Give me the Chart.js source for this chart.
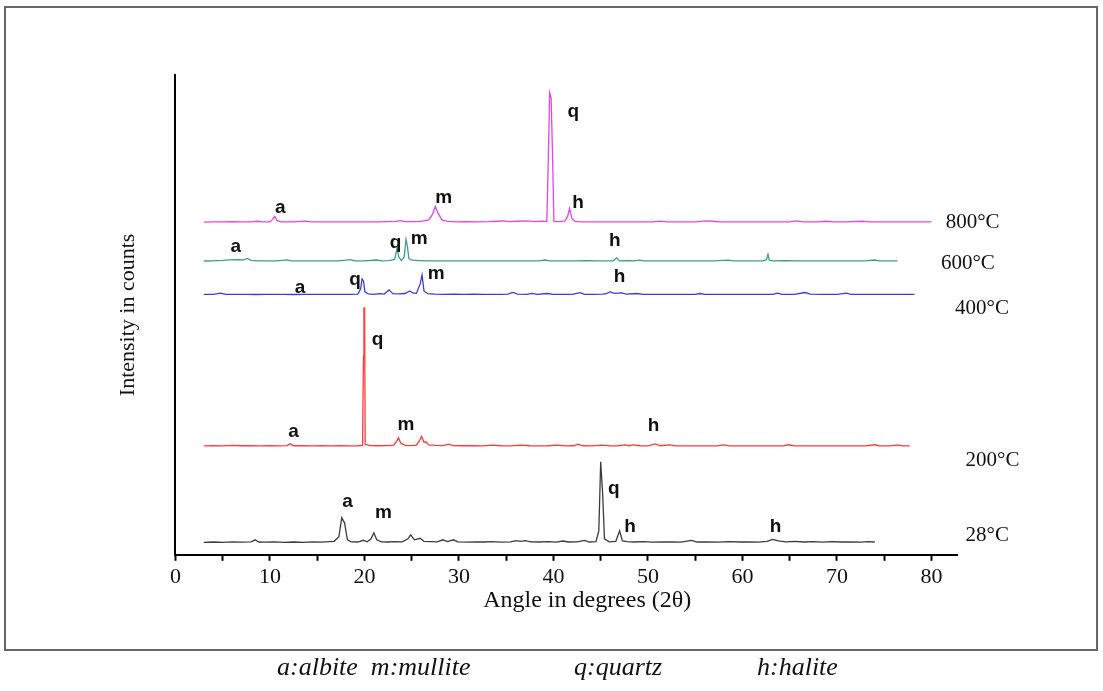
<!DOCTYPE html>
<html>
<head>
<meta charset="utf-8">
<script src="https://cdn.jsdelivr.net/npm/chart.js@4.4.1/dist/chart.umd.min.js"></script>
<style>
  html, body { margin: 0; padding: 0; background: #fff; }
  body { width: 1103px; height: 691px; position: relative; overflow: hidden; }
  #frame { position: absolute; left: 4px; top: 6px; width: 1094px; height: 645px; border: 2px solid #666; box-sizing: border-box; }
  #chart { position: absolute; left: 0; top: 0; }
  .cap { position: absolute; top: 652px; font: italic 26px "Liberation Serif", serif; color: #111; white-space: pre; }
</style>
</head>
<body>
<div id="frame"></div>
<canvas id="chart" width="1103" height="691"></canvas>
<div class="cap" style="left:277px">a:albite  m:mullite</div>
<div class="cap" style="left:574px">q:quartz</div>
<div class="cap" style="left:757px">h:halite</div>
<script>
(function () {
    "use strict";

    // patterns: [angle 2θ, counts above the trace baseline]
    const xrd28 = [[3.0,5],[4.0,8],[5.0,4],[6.0,9],[7.0,6],[8.0,10],[8.45,30],[8.8,8],[9.5,6],[10.5,10],[11.5,5],[12.5,8],[13.5,4],[14.5,9],[15.5,6],[16.3,12],[16.8,15],[17.3,60],[17.6,250],[17.9,200],[18.2,30],[18.6,10],[19.3,8],[19.9,25],[20.3,10],[20.7,40],[21.0,100],[21.3,30],[21.8,10],[22.5,8],[23.2,12],[24.0,10],[24.6,40],[24.9,80],[25.3,30],[25.9,45],[26.3,15],[27.0,12],[27.7,10],[28.3,30],[28.8,12],[29.4,30],[29.9,10],[30.8,6],[31.8,10],[32.7,8],[33.5,12],[34.5,6],[35.5,10],[36.0,22],[36.5,14],[37.0,22],[37.6,10],[38.5,8],[39.5,12],[40.3,6],[41.0,18],[41.6,8],[42.5,10],[43.3,25],[43.8,8],[44.5,12],[44.8,120],[45.0,810],[45.2,500],[45.4,40],[45.9,10],[46.6,15],[47.0,120],[47.3,20],[47.8,12],[48.5,8],[49.5,12],[50.5,6],[51.5,10],[52.5,8],[53.5,6],[54.6,25],[55.2,8],[56.3,10],[57.5,6],[58.6,12],[59.7,8],[60.7,10],[61.7,6],[62.6,14],[63.2,35],[63.8,20],[64.6,10],[65.5,14],[66.5,8],[67.5,12],[68.5,6],[69.5,12],[70.5,8],[71.5,10],[72.5,6],[73.3,12],[74.0,8]];
    const xrd200 = [[3.0,4],[4.0,8],[5.0,5],[6.0,10],[7.0,6],[8.0,8],[9.0,4],[10.0,6],[11.0,5],[11.8,8],[12.15,25],[12.5,6],[13.5,8],[14.5,5],[15.5,7],[16.5,4],[17.5,6],[18.5,5],[19.3,6],[19.8,10],[19.9,900],[19.95,1385],[20.02,1385],[20.08,20],[20.6,8],[21.5,6],[22.3,8],[23.1,12],[23.4,50],[23.6,85],[23.85,30],[24.3,10],[25.0,8],[25.5,12],[25.85,60],[26.05,100],[26.3,40],[26.5,45],[26.8,15],[27.5,10],[28.3,8],[28.9,22],[29.4,8],[30.5,6],[31.5,8],[32.5,5],[33.5,12],[34.5,6],[35.5,5],[36.5,12],[37.5,6],[38.5,5],[39.5,6],[40.3,12],[41.3,5],[42.1,6],[42.6,22],[43.1,6],[44.1,5],[45.1,12],[46.0,5],[46.8,6],[47.6,14],[48.0,6],[48.4,14],[49.2,6],[50.0,5],[50.8,25],[51.3,6],[52.3,14],[53.0,5],[54.5,4],[56.0,5],[57.3,4],[58.0,14],[58.6,4],[60.0,5],[61.5,4],[63.0,5],[64.3,4],[64.9,16],[65.5,4],[67.0,5],[68.5,4],[70.0,5],[71.5,4],[73.0,5],[74.0,16],[74.5,4],[75.5,5],[76.4,12],[77.0,4],[77.7,5]];
    const xrd400 = [[3.0,5],[4.0,6],[4.8,18],[5.3,6],[6.5,5],[7.5,6],[8.5,4],[9.5,6],[10.5,5],[11.5,6],[12.5,4],[13.5,6],[14.5,5],[15.5,6],[16.5,5],[17.5,6],[18.5,5],[19.3,8],[19.6,60],[19.75,160],[19.9,140],[20.05,30],[20.4,10],[21.0,6],[21.6,12],[22.1,8],[22.6,50],[23.0,12],[23.6,10],[24.3,14],[24.8,40],[25.1,20],[25.5,15],[25.9,110],[26.1,200],[26.3,40],[26.7,12],[27.5,8],[28.3,6],[29.5,8],[30.5,5],[31.5,7],[32.5,5],[33.5,6],[34.5,5],[35.2,8],[35.7,25],[36.2,8],[37.2,6],[37.7,16],[38.3,6],[39.3,14],[40.0,6],[41.0,5],[42.0,6],[42.8,22],[43.3,6],[44.3,5],[45.2,8],[45.6,12],[46.0,32],[46.4,15],[47.2,20],[47.7,8],[48.8,14],[49.5,6],[50.5,5],[52.0,6],[53.5,5],[55.0,6],[55.5,14],[56.0,6],[57.5,5],[59.0,6],[60.5,5],[62.0,6],[63.2,5],[63.7,18],[64.2,5],[65.5,6],[66.6,24],[67.2,8],[68.5,5],[70.0,6],[71.0,18],[71.5,6],[73.0,5],[74.5,6],[76.0,5],[77.2,6],[78.2,5]];
    const xrd600 = [[3.0,4],[4.0,6],[5.0,10],[5.8,16],[6.6,18],[7.2,16],[7.6,30],[8.0,10],[8.8,5],[9.8,6],[10.8,5],[11.8,16],[12.3,5],[13.3,6],[14.3,5],[15.3,6],[16.3,5],[17.3,6],[18.5,18],[19.0,5],[20.0,6],[21.3,14],[21.8,5],[22.6,8],[23.2,20],[23.45,130],[23.65,40],[23.9,10],[24.2,40],[24.4,220],[24.55,150],[24.7,30],[25.0,12],[25.8,8],[26.8,5],[28.0,6],[29.5,5],[31.0,6],[32.5,5],[34.0,6],[35.5,5],[37.0,6],[38.5,5],[39.1,14],[39.6,5],[41.0,6],[42.5,5],[43.5,8],[44.5,5],[45.5,6],[46.3,5],[46.7,35],[47.0,5],[47.8,8],[48.5,6],[49.1,12],[49.6,5],[51.0,6],[52.5,5],[54.0,6],[55.5,5],[57.0,6],[58.5,12],[59.0,5],[60.5,6],[62.2,5],[62.55,20],[62.7,70],[62.85,10],[63.3,6],[64.5,8],[65.5,5],[67.0,6],[68.5,5],[70.0,6],[71.5,5],[73.0,6],[74.0,14],[74.5,5],[75.5,6],[76.4,5]];
    const xrd800 = [[3.0,4],[4.0,6],[5.0,5],[6.0,8],[7.0,6],[8.0,5],[8.6,12],[9.2,5],[10.0,6],[10.3,30],[10.5,60],[10.75,20],[11.2,6],[12.5,5],[13.7,14],[14.3,5],[15.5,6],[16.5,5],[17.5,6],[18.5,5],[19.5,6],[20.5,5],[21.5,6],[22.5,8],[23.3,10],[23.8,18],[24.3,8],[25.2,8],[26.0,10],[26.8,25],[27.2,80],[27.5,160],[27.8,90],[28.2,25],[28.8,10],[29.8,6],[30.8,8],[32.0,5],[33.2,8],[34.0,12],[34.7,16],[35.3,8],[36.2,12],[37.2,16],[38.0,8],[38.8,12],[39.3,10],[39.45,600],[39.6,1300],[39.75,1250],[39.9,700],[40.05,10],[40.6,8],[41.2,12],[41.5,60],[41.7,140],[41.95,40],[42.3,10],[43.0,6],[44.5,5],[46.0,6],[47.5,5],[49.0,6],[50.5,5],[51.3,14],[52.0,5],[53.5,6],[55.0,5],[56.2,16],[56.9,12],[57.5,5],[59.0,6],[60.5,5],[62.0,6],[63.5,5],[65.0,6],[65.7,16],[66.4,5],[68.0,6],[68.9,12],[69.6,5],[71.0,6],[72.7,12],[73.4,5],[75.0,6],[76.5,5],[78.0,6],[80.0,5]];

    const temps = ['28°C', '200°C', '400°C', '600°C', '800°C'];
    const patterns = [xrd28, xrd200, xrd400, xrd600, xrd800];
    const offsets = [120, 1085, 2600, 2935, 3325];   // vertical stacking of traces
    const colors = ['#3c3c3c', '#ff3a3a', '#3c3cdc', '#3f9c8c', '#e445e4'];
    const tempAt = [[83.6, 190], [83.6, 940], [82.5, 2460], [81.0, 2910], [81.5, 3320]];

    // phase marks: [letter, angle, counts]
    const peakMarks = [
        ['a', 18.2, 530], ['m', 22.0, 420], ['q', 46.4, 660], ['h', 48.1, 280], ['h', 63.5, 280],
        ['a', 12.5, 1230], ['q', 21.4, 2150], ['m', 24.4, 1300], ['h', 50.6, 1290],
        ['a', 13.2, 2670], ['q', 19.0, 2750], ['m', 27.6, 2810], ['h', 47.0, 2780],
        ['a', 6.4, 3080], ['q', 23.3, 3120], ['m', 25.8, 3160], ['h', 46.5, 3140],
        ['a', 11.1, 3470], ['m', 28.4, 3570], ['q', 42.1, 4430], ['h', 42.6, 3520]
    ];

    const annotate = {
        id: 'annotate',
        afterDatasetsDraw(chart) {
            const ctx = chart.ctx;
            const x = chart.scales.x, y = chart.scales.y;
            ctx.save();
            ctx.fillStyle = '#111';
            ctx.textBaseline = 'middle';
            ctx.textAlign = 'center';
            ctx.font = 'bold 19px "Liberation Sans", Arial, sans-serif';
            peakMarks.forEach(function (p) {
                ctx.fillText(p[0], x.getPixelForValue(p[1]), y.getPixelForValue(p[2]));
            });
            ctx.textAlign = 'left';
            ctx.font = '21px "Liberation Serif", serif';
            temps.forEach(function (t, i) {
                ctx.fillText(t, x.getPixelForValue(tempAt[i][0]), y.getPixelForValue(tempAt[i][1]));
            });
            ctx.restore();
        }
    };

    const datasets = patterns.map(function (pat, i) {
        return {
            label: temps[i],
            data: pat.map(function (p) { return {x: p[0], y: p[1] + offsets[i]}; }),
            borderColor: colors[i],
            borderWidth: 1.3,
            pointRadius: 0,
            tension: 0,
            fill: false
        };
    });

    const ctx = document.getElementById('chart').getContext('2d');
    new Chart(ctx, {
        type: 'line',
        data: { datasets: datasets },
        plugins: [annotate],
        options: {
            responsive: false,
            animation: false,
            layout: { padding: { left: 0, right: 146, top: 75, bottom: 76 } },
            plugins: { legend: { display: false }, tooltip: { enabled: false } },
            scales: {
                x: {
                    type: 'linear',
                    min: 0,
                    max: 82.7,
                    border: { display: true, color: '#000', width: 2 },
                    grid: { drawOnChartArea: false, color: '#000', tickLength: 6, tickWidth: 2 },
                    ticks: {
                        stepSize: 5,
                        autoSkip: false,
                        includeBounds: false,
                        maxRotation: 0,
                        padding: 3,
                        color: '#111',
                        font: { family: '"Liberation Serif", serif', size: 22 },
                        callback: function (v) { return v % 10 === 0 ? v : ''; }
                    },
                    title: {
                        display: true,
                        text: '       Angle in degrees (2θ)',
                        color: '#111',
                        padding: { top: -7, bottom: 0 },
                        font: { family: '"Liberation Serif", serif', size: 24 }
                    }
                },
                y: {
                    type: 'linear',
                    min: 0,
                    max: 4800,
                    border: { display: true, color: '#000', width: 2 },
                    grid: { drawOnChartArea: false, drawTicks: false },
                    ticks: { display: false },
                    title: {
                        display: true,
                        text: 'Intensity in counts',
                        color: '#111',
                        padding: { top: 115, bottom: 34 },
                        font: { family: '"Liberation Serif", serif', size: 22 }
                    }
                }
            }
        }
    });
})();
</script>
</body>
</html>
